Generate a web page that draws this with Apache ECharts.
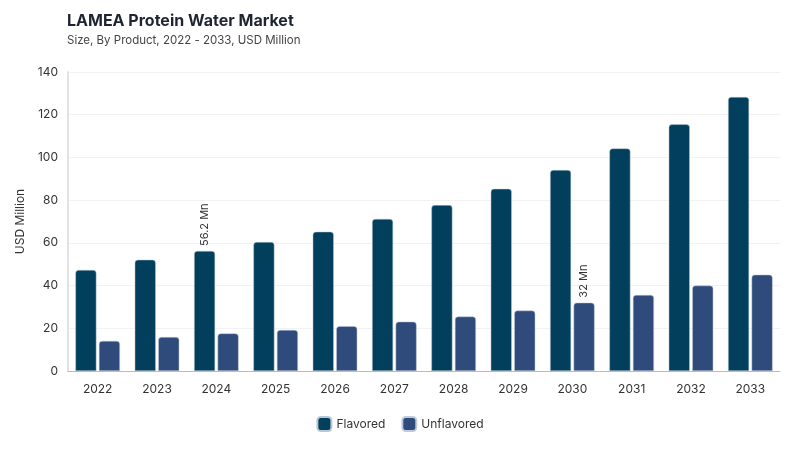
<!DOCTYPE html>
<html><head><meta charset="utf-8">
<script src="https://cdn.jsdelivr.net/npm/echarts@6/dist/echarts.min.js"></script>
<style>html,body{margin:0;padding:0;background:#fff}#c{width:800px;height:450px}</style>
</head><body><div id="c"></div>
<script>
const categories = ['2022','2023','2024','2025','2026','2027','2028','2029','2030','2031','2032','2033'];
const flavored = [47.3, 52.1, 56.2, 60.4, 65.2, 71.2, 77.7, 85.3, 94.1, 104.2, 115.5, 128.3];
const unflavored = [14.1, 15.9, 17.6, 19.2, 21.0, 23.1, 25.5, 28.3, 32.0, 35.6, 40.0, 45.1];
const seriesNames = ['Flavored', 'Unflavored'];
const flavoredLabelIdx = 2;
const unflavoredLabelIdx = 8;

const font = 'Inter, "Noto Sans", sans-serif';
const chart = echarts.init(document.getElementById('c'));
function mkLabel(idx) {
  return {
    show: true, position: 'top', rotate: 90, align: 'left', verticalAlign: 'middle',
    distance: 5, fontSize: 11, color: '#333', fontFamily: font,
    formatter: p => p.dataIndex === idx ? p.value + ' Mn' : ''
  };
}
chart.setOption({
  animation: false,
  title: {
    text: 'LAMEA Protein Water Market',
    subtext: 'Size, By Product, 2022 - 2033, USD Million',
    left: 62, top: 8,
    textStyle: { fontFamily: font, fontSize: 16, fontWeight: 'bold', color: '#1f2433' },
    subtextStyle: { fontFamily: font, fontSize: 11.5, color: '#444' },
    itemGap: 6
  },
  legend: {
    bottom: 13, left: 'center', itemWidth: 14, itemHeight: 14, itemGap: 16,
    icon: 'roundRect',
    textStyle: { fontFamily: font, fontSize: 12, color: '#333' },
    data: seriesNames
  },
  grid: { left: 68, right: 20, top: 72, bottom: 79 },
  xAxis: {
    type: 'category', data: categories,
    axisLine: { lineStyle: { color: '#bbb' } },
    axisTick: { show: false },
    axisLabel: { fontFamily: font, fontSize: 12, color: '#333', margin: 12 }
  },
  yAxis: {
    type: 'value', min: 0, max: 140, interval: 20,
    name: 'USD Million', nameLocation: 'middle', nameGap: 42, nameRotate: 90,
    nameTextStyle: { fontFamily: font, fontSize: 12, color: '#333' },
    axisLine: { show: true, lineStyle: { color: '#e3e3e3', width: 2 } },
    axisLabel: { fontFamily: font, fontSize: 12, color: '#333', margin: 10 },
    splitLine: { lineStyle: { color: '#f2f2f2' } }
  },
  series: [
    {
      name: seriesNames[0], type: 'bar', data: flavored, barWidth: 21, barGap: '12%',
      itemStyle: { color: '#023f5c', borderRadius: [3,3,0,0], borderColor: '#b9c7d3', borderWidth: 0.5 },
      label: mkLabel(flavoredLabelIdx)
    },
    {
      name: seriesNames[1], type: 'bar', data: unflavored, barWidth: 21,
      itemStyle: { color: '#2f4b7c', borderRadius: [3,3,0,0], borderColor: '#c2c9da', borderWidth: 0.5 },
      label: mkLabel(unflavoredLabelIdx)
    }
  ]
});
</script></body></html>
